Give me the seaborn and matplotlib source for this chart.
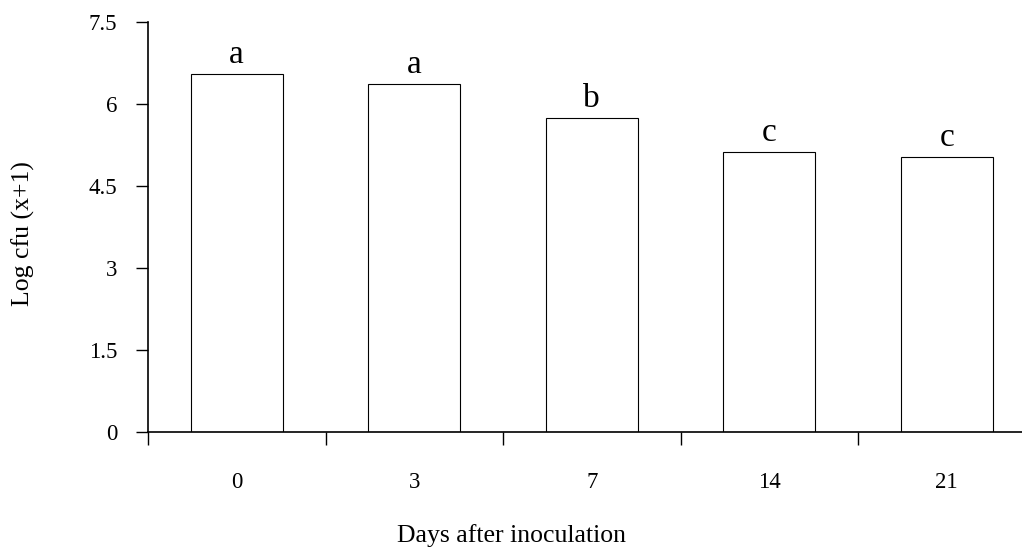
import matplotlib
matplotlib.use("Agg")
import matplotlib.pyplot as plt
import seaborn as sns
import pandas as pd

days = ["0", "3", "7", "14", "21"]
log_cfu = [6.55, 6.37, 5.74, 5.12, 5.03]
letters = ["a", "a", "b", "c", "c"]
y_ticks = [0, 1.5, 3, 4.5, 6, 7.5]
y_tick_labels = ["0", "1.5", "3", "4.5", "6", "7.5"]

sns.set_theme(style="white")
plt.rcParams["font.family"] = ["Liberation Serif", "DejaVu Serif"]

df = pd.DataFrame({"day": days, "value": log_cfu})

fig = plt.figure(figsize=(10.22, 5.48), dpi=100)
ax = fig.add_axes([148 / 1022, 1 - 432 / 548, 1 - 148 / 1022, (432 - 22) / 548])

sns.barplot(data=df, x="day", y="value", order=days, color="white",
            edgecolor="black", linewidth=0.8, width=0.52, ax=ax)

for i, (v, l) in enumerate(zip(log_cfu, letters)):
    ax.text(i, v + 0.2, l, ha="center", va="baseline", fontsize=24, color="black")

ax.set_ylim(0, 7.5)
ax.set_xlim(-0.5, (1022 - 148) / 177.5 - 0.5)
ax.set_yticks(y_ticks)
ax.set_yticklabels(y_tick_labels)

# major ticks at category boundaries, labels at centres via minor ticks
ax.set_xticks([i - 0.5 for i in range(len(days))])
ax.set_xticklabels([])
ax.set_xticks(list(range(len(days))), minor=True)
ax.set_xticklabels(days, minor=True)
ax.tick_params(axis="x", which="major", direction="out", length=9.4, width=1,
               color="black", bottom=True)
ax.tick_params(axis="x", which="minor", length=0, pad=29, labelsize=16.5,
               labelcolor="black")
ax.tick_params(axis="y", direction="out", length=8.6, width=1, color="black",
               left=True, pad=13.5, labelsize=16.5, labelcolor="black")

for s in ["top", "right"]:
    ax.spines[s].set_visible(False)
for s in ["left", "bottom"]:
    ax.spines[s].set_color("black")
    ax.spines[s].set_linewidth(1.2)

ax.set_xlabel("Days after inoculation", fontsize=18.5, color="black")
ax.set_ylabel("Log cfu (x+1)", fontsize=18.5, color="black")
ax.xaxis.set_label_coords((511 - 148) / (1022 - 148), -(536 - 432) / 410, transform=ax.transAxes)
ax.yaxis.set_label_coords(-(148 - 23) / (1022 - 148), (432 - 234) / 410, transform=ax.transAxes)
ax.xaxis.label.set_va("center")
ax.yaxis.label.set_va("center")

fig.savefig("out.png", dpi=100)
